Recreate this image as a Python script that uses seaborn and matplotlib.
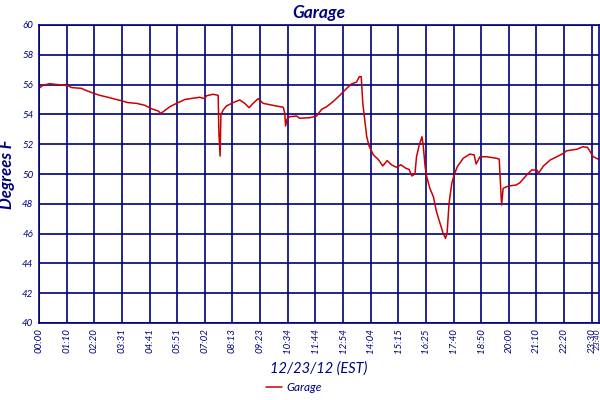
import numpy as np
import pandas as pd
import matplotlib
matplotlib.use("Agg")
import matplotlib.pyplot as plt
import seaborn as sns

# sample time in minutes after midnight, temperature in F
minutes = [0, 10, 27, 48, 74, 83, 108, 117, 129, 142, 155, 176, 193, 210, 227,
           249, 270, 287, 304, 311, 334, 351, 372, 410, 423, 427, 444, 457, 459,
           462, 464, 470, 478, 495, 512, 525, 536, 546, 559, 572, 589, 606, 623,
           627, 629, 633, 640, 657, 665, 691, 708, 721, 734, 750, 768, 785, 797,
           810, 817, 822, 826, 831, 836, 842, 853, 865, 877, 888, 900, 912, 923,
           936, 944, 951, 959, 963, 970, 977, 980, 985, 989, 997, 1006, 1014,
           1023, 1031, 1037, 1041, 1046, 1053, 1059, 1067, 1082, 1099, 1110,
           1115, 1125, 1142, 1168, 1174, 1178, 1180, 1184, 1197, 1217, 1227,
           1244, 1257, 1270, 1274, 1287, 1304, 1321, 1338, 1346, 1372, 1387,
           1399, 1406, 1414, 1427]
temps = [55.75, 55.95, 56.06, 56.0, 55.93, 55.8, 55.75, 55.64, 55.52, 55.39,
         55.28, 55.15, 55.03, 54.92, 54.79, 54.74, 54.61, 54.38, 54.23, 54.07,
         54.52, 54.74, 55.0, 55.15, 55.05, 55.25, 55.35, 55.28, 52.73, 51.2,
         53.96, 54.3, 54.56, 54.79, 54.97, 54.74, 54.45, 54.74, 55.05, 54.74,
         54.65, 54.56, 54.48, 54.07, 53.22, 53.71, 53.85, 53.89, 53.74, 53.78,
         53.89, 54.34, 54.52, 54.85, 55.3, 55.75, 56.04, 56.17, 56.53, 56.53,
         54.74, 53.62, 52.5, 51.88, 51.28, 50.99, 50.54, 50.9, 50.6, 50.45,
         50.62, 50.38, 50.31, 49.87, 50.0, 51.16, 51.95, 52.5, 51.95, 50.49,
         49.82, 49.04, 48.48, 47.47, 46.69, 46.02, 45.68, 46.02, 48.03, 49.38,
         49.93, 50.49, 51.05, 51.34, 51.28, 50.67, 51.16, 51.16, 51.05, 50.99,
         48.93, 47.92, 49.04, 49.19, 49.26, 49.42, 49.93, 50.27, 50.27, 50.05,
         50.54, 50.94, 51.16, 51.39, 51.56, 51.66, 51.83, 51.79, 51.5, 51.16,
         50.99]

tick_labels = ["00:00", "01:10", "02:20", "03:31", "04:41", "05:51", "07:02",
               "08:13", "09:23", "10:34", "11:44", "12:54", "14:04", "15:15",
               "16:25", "17:40", "18:50", "20:00", "21:10", "22:20", "23:30"]
last_label = "23:40"
y_ticks = [40, 42, 44, 46, 48, 50, 52, 54, 56, 58, 60]

navy = "#000080"
red = "#cc0000"

sns.set_style("white")
plt.rcParams["font.family"] = ["Lato", "DejaVu Sans"]

df = pd.DataFrame({"minute": minutes, "temp": temps})

fig = plt.figure(figsize=(6, 4), dpi=100)
ax = fig.add_axes([0.065, 0.1925, 0.933, 0.745])

sns.lineplot(data=df, x="minute", y="temp", ax=ax, color=red, linewidth=1.1,
             label="Garage", legend=False)

step = 70.5
ax.set_xlim(0, 1428)
ax.set_ylim(40, 60)
ax.set_xticks([i * step for i in range(len(tick_labels))])
ax.set_xticklabels(tick_labels, rotation=90, fontstyle="italic",
                   fontsize=7, color=navy)
# last label sits right next to 23:30, as in the original
ax.set_xticks([1425], minor=True)
ax.set_xticklabels([last_label], minor=True, rotation=90, fontstyle="italic",
                   fontsize=6, color=navy)
ax.set_yticks(y_ticks)
ax.set_yticklabels([str(v) for v in y_ticks], fontstyle="italic",
                   fontsize=7, color=navy)
ax.tick_params(axis="both", which="both", length=0, pad=4)

ax.grid(True, which="major", color=navy, linewidth=1.2)
ax.set_axisbelow(True)
for s in ax.spines.values():
    s.set_color(navy)
    s.set_linewidth(1.2)

ax.set_title("Garage", fontsize=12.5, fontweight="bold", fontstyle="italic",
             color=navy, pad=5)
ax.set_ylabel("Degrees F", fontsize=12, fontweight="bold",
              fontstyle="italic", color=navy, labelpad=5)
ax.set_xlabel("12/23/12 (EST)", fontsize=10.5, fontstyle="italic",
              color=navy, labelpad=6)

leg = fig.legend(loc="lower center", bbox_to_anchor=(0.49, -0.01),
                 frameon=False, handlelength=1.3, handletextpad=0.4,
                 prop={"style": "italic", "size": 8.5})
for t in leg.get_texts():
    t.set_color(navy)

fig.savefig("out.png", dpi=100)
